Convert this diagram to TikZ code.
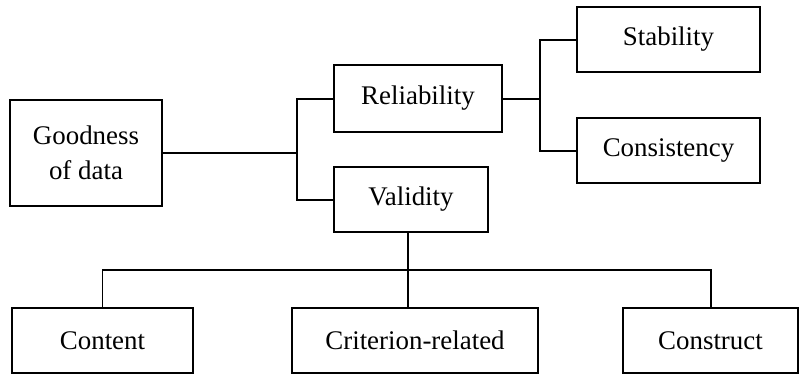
\documentclass[tikz,border=0pt]{standalone}
\usepackage{fontspec}
\setmainfont{Liberation Serif}
\begin{document}
\begin{tikzpicture}[x=1bp,y=-1bp,
  box/.style={draw,line width=2.4pt,minimum height=65bp,inner sep=0pt,align=center,
    font=\fontsize{27}{35}\selectfont},
  link/.style={line width=2pt}]
\useasboundingbox (0,0) rectangle (801,376);
% boxes
\node[box,minimum width=152bp,minimum height=106bp] (good) at (86,153) {Goodness\\of data};
\node[box,minimum width=168bp,minimum height=67bp] (rel) at (418,98.5) {Reliability};
\node[box,minimum width=154bp] (val) at (411,199.5) {Validity};
\node[box,minimum width=183bp] (stab) at (668.5,39.5) {Stability};
\node[box,minimum width=183bp] (cons) at (668.5,150.5) {Consistency};
\node[box,minimum width=181bp] (cont) at (102.5,340.5) {Content};
\node[box,minimum width=246bp] (crit) at (415,340.5) {Criterion-related};
\node[box,minimum width=175bp] (constr) at (710.5,340.5) {Construct};
% junction points
\coordinate (ja) at (297,153);
\coordinate (jb) at (540,98.5);
\coordinate (bus) at (408,270);
% connectors
\draw[link] (good.east) -- (ja);
\draw[link] (rel.west) -| (ja) |- (val.west);
\draw[link] (rel.east) -- (jb);
\draw[link] (stab.west) -| (jb) |- (cons.west);
\draw[link] (val.south -| bus) -- (crit.north -| bus);
\draw[link] (cont.north) |- (bus) -| (constr.north);
\end{tikzpicture}
\end{document}
